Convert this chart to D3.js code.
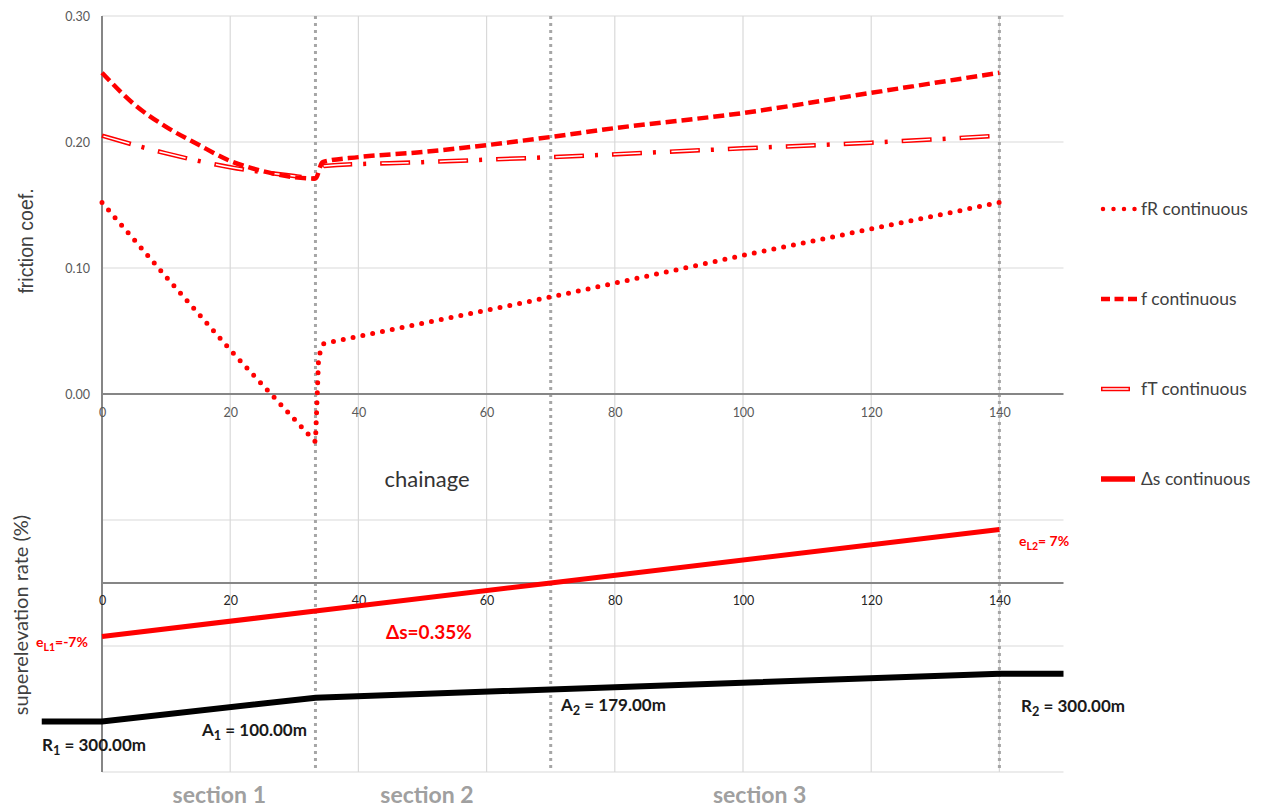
<!DOCTYPE html>
<html>
<head>
<meta charset="utf-8">
<script src="https://cdn.jsdelivr.net/npm/d3@7"></script>
<style>
  body { margin: 0; background: #fff; }
  svg text { font-family: Lato, "Open Sans", sans-serif; }
</style>
</head>
<body>
<div id="chart"></div>
<script>
// friction curves: [chainage, value]
const fR = [[0, 0.152], [10, 0.093], [20, 0.035], [30, -0.020], [33.3, -0.038],
  [33.8, 0.030], [34.6, 0.040], [50, 0.056], [70, 0.077], [100, 0.110], [120, 0.131], [140, 0.152]];
const fTotal = [[0, 0.255], [5, 0.230], [10, 0.212], [15, 0.198], [20, 0.185], [25, 0.177],
  [30, 0.172], [33.3, 0.171], [34.4, 0.184], [40, 0.188], [50, 0.192], [60, 0.1975],
  [70, 0.204], [80, 0.211], [100, 0.223], [120, 0.239], [140, 0.255]];
const fT = [[0, 0.205], [10, 0.191], [20, 0.180], [30, 0.173], [33.3, 0.171],
  [34.6, 0.181], [50, 0.184], [70, 0.188], [100, 0.195], [120, 0.1995], [140, 0.205]];
// superelevation (%)
const eRate = [[0, -7], [33.3, -3.67], [70, 0], [140, 7]];
// curvature 1/R
const curvature = [[-9.4, -1 / 300], [0, -1 / 300], [33.33, 0], [140, 1 / 300], [150, 1 / 300]];

const xTicks = [0, 20, 40, 60, 80, 100, 120, 140];
const fTicks = [0, 0.1, 0.2, 0.3];
const fGrid = [-0.3, -0.2, -0.1, 0.1, 0.2, 0.3];
const sectionEnds = [33.3, 70, 140];
const sections = [{ name: "section 1", at: 18.3 }, { name: "section 2", at: 50.7 }, { name: "section 3", at: 102.6 }];
const legendItems = ["fR continuous", "f continuous", "fT continuous", "Δs continuous"];

const svg = d3.select("#chart").append("svg")
  .attr("width", 1262)
  .attr("height", 807);

const x = d3.scaleLinear().domain([0, 150]).range([102, 1063.5]);
const yF = d3.scaleLinear().domain([-0.3, 0.3]).range([772, 16]);
const yE = d3.scaleLinear().domain([-7, 7]).range([yF(-0.15) + 53.5, yF(-0.15) - 53.5]);
const yK = d3.scaleLinear().domain([-1 / 300, 1 / 300]).range([yF(-0.26), yF(-0.222)]);

const gridColor = "#d9d9d9", axisColor = "#868686", red = "#ff0000";

// gridlines
svg.append("g").selectAll("line").data(fGrid).enter().append("line")
  .attr("x1", x(0)).attr("x2", x(150))
  .attr("y1", d => yF(d)).attr("y2", d => yF(d))
  .attr("stroke", gridColor).attr("stroke-width", 1.2);
svg.append("g").selectAll("line").data(xTicks.slice(1)).enter().append("line")
  .attr("x1", d => x(d)).attr("x2", d => x(d))
  .attr("y1", yF(0.3)).attr("y2", yF(-0.3))
  .attr("stroke", gridColor).attr("stroke-width", 1.2);

// section boundaries
svg.append("g").selectAll("line").data(sectionEnds).enter().append("line")
  .attr("x1", d => x(d)).attr("x2", d => x(d))
  .attr("y1", yF(0.3)).attr("y2", yF(-0.3))
  .attr("stroke", "#a6a6a6").attr("stroke-width", 3)
  .attr("stroke-dasharray", "3,4");

// axes lines
svg.append("line").attr("x1", x(0)).attr("x2", x(0)).attr("y1", yF(0.3)).attr("y2", yF(-0.3))
  .attr("stroke", axisColor).attr("stroke-width", 2);
svg.append("line").attr("x1", x(0)).attr("x2", x(150)).attr("y1", yF(0)).attr("y2", yF(0))
  .attr("stroke", axisColor).attr("stroke-width", 2);
svg.append("line").attr("x1", x(0)).attr("x2", x(150)).attr("y1", yE(0)).attr("y2", yE(0))
  .attr("stroke", axisColor).attr("stroke-width", 2);

// tick labels
const axTop = svg.append("g").attr("transform", `translate(0,${yF(0)})`)
  .call(d3.axisBottom(x).tickValues(xTicks).tickSize(0).tickPadding(14));
const axLow = svg.append("g").attr("transform", `translate(0,${yE(0)})`)
  .call(d3.axisBottom(x).tickValues(xTicks).tickSize(0).tickPadding(13));
const axY = svg.append("g").attr("transform", `translate(${x(0)},0)`)
  .call(d3.axisLeft(yF).tickValues(fTicks).tickFormat(d3.format(".2f")).tickSize(0).tickPadding(12));
[axTop, axLow, axY].forEach(a => {
  a.select(".domain").remove();
  a.selectAll("text").style("font-family", "Lato, sans-serif").style("font-size", "12.5px");
});
axTop.selectAll("text").attr("fill", "#595959");
axY.selectAll("text").attr("fill", "#595959");
axLow.selectAll("text").attr("fill", "#262626");

// axis titles
svg.append("text").attr("transform", "translate(33,241) rotate(-90)")
  .attr("text-anchor", "middle").attr("font-size", 19.5).attr("fill", "#404040")
  .style("font-family", "'Liberation Sans', Arial, sans-serif")
  .text("friction coef.");
svg.append("text").attr("transform", "translate(28,615) rotate(-90)")
  .attr("text-anchor", "middle").attr("font-size", 20).attr("fill", "#404040")
  .text("superelevation rate (%)");
svg.append("text").attr("x", 427).attr("y", 487).attr("text-anchor", "middle")
  .attr("font-size", 22).attr("fill", "#333").text("chainage");

const lineF = d3.line().x(d => x(d[0])).y(d => yF(d[1]));
const smoothF = d3.line().x(d => x(d[0])).y(d => yF(d[1])).curve(d3.curveMonotoneX);

// fT: double line dash-dot
svg.append("path").datum(fT).attr("d", smoothF).attr("fill", "none")
  .attr("stroke", red).attr("stroke-width", 4.5).attr("stroke-dasharray", "30,11,3,14");
svg.append("path").datum(fT).attr("d", smoothF).attr("fill", "none")
  .attr("stroke", "#fff").attr("stroke-width", 1.5)
  .attr("stroke-dasharray", "27,31").attr("stroke-dashoffset", -1.5);

// f: dashed
svg.append("path").datum(fTotal).attr("d", smoothF).attr("fill", "none")
  .attr("stroke", red).attr("stroke-width", 4.5).attr("stroke-dasharray", "11,5");

// fR: dotted
svg.append("path").datum(fR).attr("d", lineF).attr("fill", "none")
  .attr("stroke", red).attr("stroke-width", 5).attr("stroke-linecap", "round")
  .attr("stroke-dasharray", "0,10");

// superelevation
svg.append("path").datum(eRate)
  .attr("d", d3.line().x(d => x(d[0])).y(d => yE(d[1])))
  .attr("fill", "none").attr("stroke", red).attr("stroke-width", 5);

// curvature
svg.append("path").datum(curvature)
  .attr("d", d3.line().x(d => x(d[0])).y(d => yK(d[1])))
  .attr("fill", "none").attr("stroke", "#000").attr("stroke-width", 6);

// annotations
function subText(px, py, main, sub, rest, size, color) {
  const t = svg.append("text").attr("x", px).attr("y", py)
    .attr("font-size", size).attr("font-weight", "bold").attr("fill", color);
  t.append("tspan").text(main);
  t.append("tspan").attr("dy", size * 0.25).attr("font-size", size * 0.75).text(sub);
  t.append("tspan").attr("dy", -size * 0.25).text(rest);
  return t;
}
subText(36, 647, "e", "L1", "=-7%", 14, red);
subText(1019, 546, "e", "L2", "= 7%", 14, red);
svg.append("text").attr("x", 386).attr("y", 639).attr("font-size", 19)
  .attr("font-weight", "bold").attr("fill", red).text("Δs=0.35%");
subText(42, 751, "R", "1", " = 300.00m", 17, "#1a1a1a");
subText(202, 736, "A", "1", " = 100.00m", 17, "#1a1a1a");
subText(561, 711, "A", "2", " = 179.00m", 17, "#1a1a1a");
subText(1021, 712, "R", "2", " = 300.00m", 17, "#1a1a1a");

svg.append("g").selectAll("text").data(sections).enter().append("text")
  .attr("x", d => x(d.at)).attr("y", 803).attr("text-anchor", "middle")
  .attr("font-size", 23).attr("font-weight", "bold").attr("fill", "#a0a0a0")
  .text(d => d.name);

// legend
const legend = svg.append("g");
legendItems.forEach((name, i) => {
  const ly = 209 + i * 90;
  const g = legend.append("g");
  if (i === 0) {
    g.append("line").attr("x1", 1103).attr("x2", 1137).attr("y1", ly).attr("y2", ly)
      .attr("stroke", red).attr("stroke-width", 4.5).attr("stroke-linecap", "round").attr("stroke-dasharray", "0,10.5");
  } else if (i === 1) {
    g.append("line").attr("x1", 1101).attr("x2", 1137).attr("y1", ly).attr("y2", ly)
      .attr("stroke", red).attr("stroke-width", 4.5).attr("stroke-dasharray", "9,4.5");
  } else if (i === 2) {
    g.append("line").attr("x1", 1101).attr("x2", 1130).attr("y1", ly).attr("y2", ly)
      .attr("stroke", red).attr("stroke-width", 4.5);
    g.append("line").attr("x1", 1102.5).attr("x2", 1128.5).attr("y1", ly).attr("y2", ly)
      .attr("stroke", "#fff").attr("stroke-width", 1.5);
  } else {
    g.append("line").attr("x1", 1101).attr("x2", 1135).attr("y1", ly).attr("y2", ly)
      .attr("stroke", red).attr("stroke-width", 5.5);
  }
  g.append("text").attr("x", 1141).attr("y", ly + 6)
    .attr("font-size", 17.5).attr("fill", "#404040").text(name);
});
</script>
</body>
</html>
